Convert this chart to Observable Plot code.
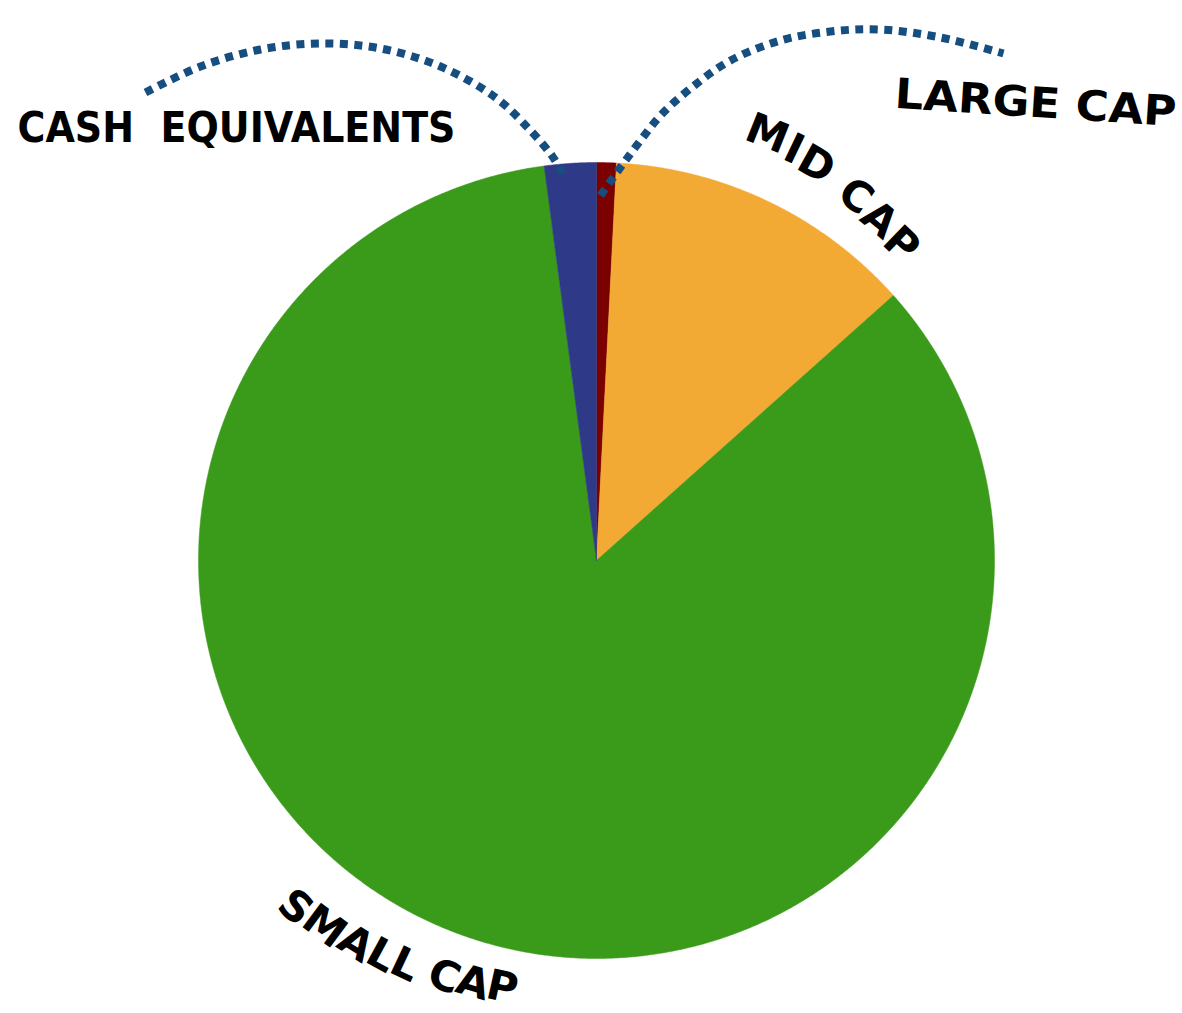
<!DOCTYPE html>
<html><head><meta charset="utf-8">
<script src="https://cdn.jsdelivr.net/npm/d3@7"></script>
<script src="https://cdn.jsdelivr.net/npm/@observablehq/plot@0.6"></script>
<style>body{margin:0;background:#fff}#chart svg{display:block}</style>
</head><body><div id="chart"></div>
<script>
// ---- data ----
const categories = ["Large Cap", "Mid Cap", "Small Cap", "Cash Equivalents"];
const shares = [0.8, 12.6, 84.5, 2.1];
const labels = ["LARGE CAP", "MID CAP", "SMALL CAP", "CASH  EQUIVALENTS"];
const colors = ["#7b0000", "#f3aa35", "#3a9a1a", "#2e3a87"];

// ---- layout ----
const W = 1182, H = 1013;
const cx = 596, cy = 560, R = 398;
const FONT = "'DejaVu Sans', sans-serif";
const FS = 42;
const DOT = "#164e80";

// pie geometry from data
const pie = d3.pie().sort(null).value(d => d.share)(categories.map((name, i) => ({name, share: shares[i]})));
const slicePts = [];
for (const s of pie) {
  const n = Math.max(4, Math.ceil((s.endAngle - s.startAngle) / (Math.PI / 720)));
  slicePts.push({name: s.data.name, x: cx, y: cy});
  for (let k = 0; k <= n; k++) {
    const a = s.startAngle + (s.endAngle - s.startAngle) * k / n;
    slicePts.push({name: s.data.name, x: cx + R * Math.sin(a), y: cy - R * Math.cos(a)});
  }
  slicePts.push({name: s.data.name, x: cx, y: cy});
}

// leader lines (decorative)
const leaderLeft = [[145,92],[200,66],[260,49],[320,43],[380,48],[440,66],[495,97],[530,130],[552,156],[562,173]].map(([x,y]) => ({x,y}));
const leaderRight = [[600,195],[612,178],[625,160],[640,140],[660,115],[690,88],[730,60],[780,40],[830,31],[880,29],[940,37],[1003,53]].map(([x,y]) => ({x,y}));

// curved label characters
const ctx = document.createElement("canvas").getContext("2d");
function arcChars(text, {center, r0, r1, length, fontSize, outward}) {
  ctx.font = `bold ${fontSize}px 'DejaVu Sans'`;
  const chars = [...text];
  const ws = chars.map(c => ctx.measureText(c).width);
  const total = d3.sum(ws);
  const k = length / total;
  let acc = 0;
  const c0 = center * Math.PI / 180;
  const rm = (r0 + r1) / 2;
  return chars.map((ch, i) => {
    const mid = (acc + ws[i] / 2) * k; acc += ws[i];
    const t = mid / length;
    const radius = r0 + (r1 - r0) * t;
    const s = mid - length / 2;
    const a = outward ? c0 + s / rm : c0 - s / rm;
    const deg = a * 180 / Math.PI;
    return {ch, x: cx + radius * Math.sin(a), y: cy - radius * Math.cos(a), rot: outward ? deg : deg - 180};
  });
}
const midChars = arcChars(labels[1], {center: 32.5, r0: 462, r1: 437, length: 212, fontSize: FS, outward: true});
const smallChars = arcChars(labels[2], {center: 206.7, r0: 461, r1: 436, length: 252, fontSize: FS, outward: false});

const straight = [
  {text: labels[0], x: 1035, y: 103, rot: 3.7},
  {text: labels[3], x: 236, y: 128, rot: 0}
];

const chart = Plot.plot({
  width: W, height: H,
  margin: 0,
  x: {domain: [0, W], range: [0, W], axis: null},
  y: {domain: [0, H], range: [0, H], axis: null},
  color: {domain: categories, range: colors},
  marks: [
    Plot.line(slicePts, {x: "x", y: "y", z: "name", fill: "name", stroke: "name", strokeWidth: 0.5, curve: "linear"}),
    Plot.line(leaderLeft, {x: "x", y: "y", curve: "catmull-rom", stroke: DOT, strokeWidth: 8, strokeDasharray: "8 6.5", strokeLinecap: "butt"}),
    Plot.line(leaderRight, {x: "x", y: "y", curve: "catmull-rom", stroke: DOT, strokeWidth: 8, strokeDasharray: "8 6.5", strokeLinecap: "butt"}),
    Plot.text(midChars.concat(smallChars), {x: "x", y: "y", text: "ch", rotate: "rot", fontSize: FS, fontWeight: "bold", fontFamily: FONT, fill: "#000", textAnchor: "middle", lineAnchor: "middle"}),
    Plot.text(straight, {x: "x", y: "y", text: "text", rotate: "rot", fontSize: FS, fontWeight: "bold", fontFamily: FONT, fill: "#000", textAnchor: "middle", lineAnchor: "middle"})
  ]
});

const lens = {"LARGE CAP": 282, "CASH  EQUIVALENTS": 438};
d3.select(chart).selectAll("text").each(function() {
  const t = this.textContent;
  if (lens[t]) {
    this.setAttribute("textLength", lens[t]);
    this.setAttribute("lengthAdjust", "spacingAndGlyphs");
    this.style.whiteSpace = "pre";
    this.setAttribute("xml:space", "preserve");
  }
});
document.getElementById("chart").append(chart);
</script>
</body></html>
